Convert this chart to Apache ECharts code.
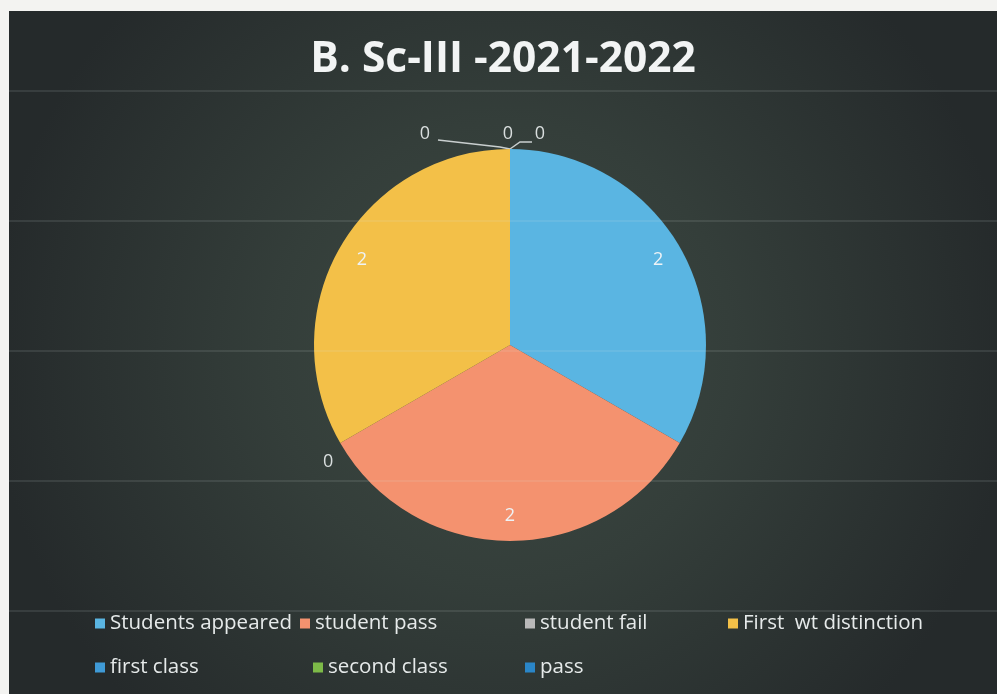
<!DOCTYPE html>
<html><head><meta charset="utf-8">
<script src="https://cdn.jsdelivr.net/npm/echarts@6/dist/echarts.min.js"></script>
<style>
html,body{margin:0;padding:0;background:#f3f3f1;width:997px;height:694px;overflow:hidden}
#c{position:absolute;left:9px;top:11px;width:988px;height:683px}
</style></head>
<body><div id="c"></div>
<script>
const chartTitle = 'B. Sc-III -2021-2022';
const categories = ['Students appeared', 'student pass', 'student fail', 'First  wt distinction', 'first class', 'second class', 'pass'];
const values = [2, 2, 0, 2, 0, 0, 0];
const sliceColors = ['#5ab5e2', '#f4926f', '#b9b9b9', '#f3c048', '#3f9ad6', '#7dba48', '#2a86c8'];

const chart = echarts.init(document.getElementById('c'));
const FONT = 'Open Sans';
const PIE_CENTER = [501, 334];
const PIE_R = 196;

const mainData = categories.map((name, i) => {
  const zero = values[i] === 0;
  return {
    name: name,
    value: values[i],
    itemStyle: { color: sliceColors[i] },
    label: { show: zero },
    labelLine: { show: zero }
  };
});
const labelData = categories.map((name, i) => ({
  name: name,
  value: values[i],
  label: { show: values[i] > 0 }
}));

// legend layout: two rows, Excel-like columns
const legendLeft = [86, 291, 516, 719, 86, 304, 516];
const legendTop = [602, 602, 602, 602, 646, 646, 646];
const legends = categories.map((name, i) => ({
  data: [{ name: name, itemStyle: { color: sliceColors[i] } }],
  left: legendLeft[i],
  top: legendTop[i],
  orient: 'horizontal',
  icon: 'rect',
  itemWidth: 10,
  itemHeight: 10,
  itemGap: 0,
  padding: 0,
  selectedMode: false,
  textStyle: { color: '#e6eaea', fontSize: 20.5, fontFamily: FONT, padding: [0, 0, 0, 0] }
}));

const gridY = [80, 210, 340, 470, 600];
const lines = gridY.map(y => ({
  type: 'line',
  z: 100,
  silent: true,
  shape: { x1: 0, y1: y, x2: 988, y2: y },
  style: { stroke: 'rgba(220,230,230,0.22)', lineWidth: 1 }
}));

// Excel-style placement of the zero-value labels, as offsets from the point
// where each zero-width slice touches the pie rim.
const zeroLabelOffset = { 2: [-12, 19], 4: [-85, -15], 5: [-2, -15], 6: [30, -15] };
const zeroLineBend = { 4: [[-10, -2], [-72, -9]], 6: [[10, -7], [22, -7]] };

chart.setOption({
  animation: false,
  backgroundColor: {
    type: 'radial', x: 0.5, y: 0.5, r: 0.75,
    colorStops: [
      { offset: 0, color: '#3d4a43' },
      { offset: 0.45, color: '#343e3a' },
      { offset: 1, color: '#252a2b' }
    ]
  },
  title: {
    text: chartTitle,
    left: 'center',
    top: 22,
    textStyle: { color: '#f2f4f4', fontSize: 42.5, fontWeight: 'bold', fontFamily: FONT }
  },
  legend: legends,
  graphic: lines,
  series: [
    {
      type: 'pie',
      center: PIE_CENTER,
      radius: [0, PIE_R],
      startAngle: 90,
      clockwise: true,
      avoidLabelOverlap: false,
      stillShowZeroSum: true,
      silent: true,
      label: {
        position: 'outside',
        color: '#d9dede',
        fontSize: 18,
        fontFamily: FONT,
        formatter: '{c}'
      },
      labelLine: { length: 10, length2: 10, lineStyle: { color: '#c9cfcf', width: 1.5 } },
      labelLayout: function (p) {
        const off = zeroLabelOffset[p.dataIndex];
        if (!off) return {};
        const a = (p.labelLinePoints && p.labelLinePoints[0]) || [PIE_CENTER[0], PIE_CENTER[1] - PIE_R];
        const bend = zeroLineBend[p.dataIndex];
        const res = { x: a[0] + off[0], y: a[1] + off[1], align: 'center', verticalAlign: 'middle' };
        if (bend) {
          res.labelLinePoints = [a, [a[0] + bend[0][0], a[1] + bend[0][1]], [a[0] + bend[1][0], a[1] + bend[1][1]]];
        } else {
          res.labelLinePoints = [a, a, a];
        }
        return res;
      },
      data: mainData
    },
    {
      type: 'pie',
      center: PIE_CENTER,
      radius: [140, PIE_R],
      startAngle: 90,
      clockwise: true,
      silent: true,
      itemStyle: { color: 'rgba(0,0,0,0)' },
      label: {
        position: 'inside',
        color: '#eef3f6',
        fontSize: 18,
        fontFamily: FONT,
        formatter: '{c}'
      },
      labelLine: { show: false },
      data: labelData
    }
  ]
});
</script>
</body></html>
